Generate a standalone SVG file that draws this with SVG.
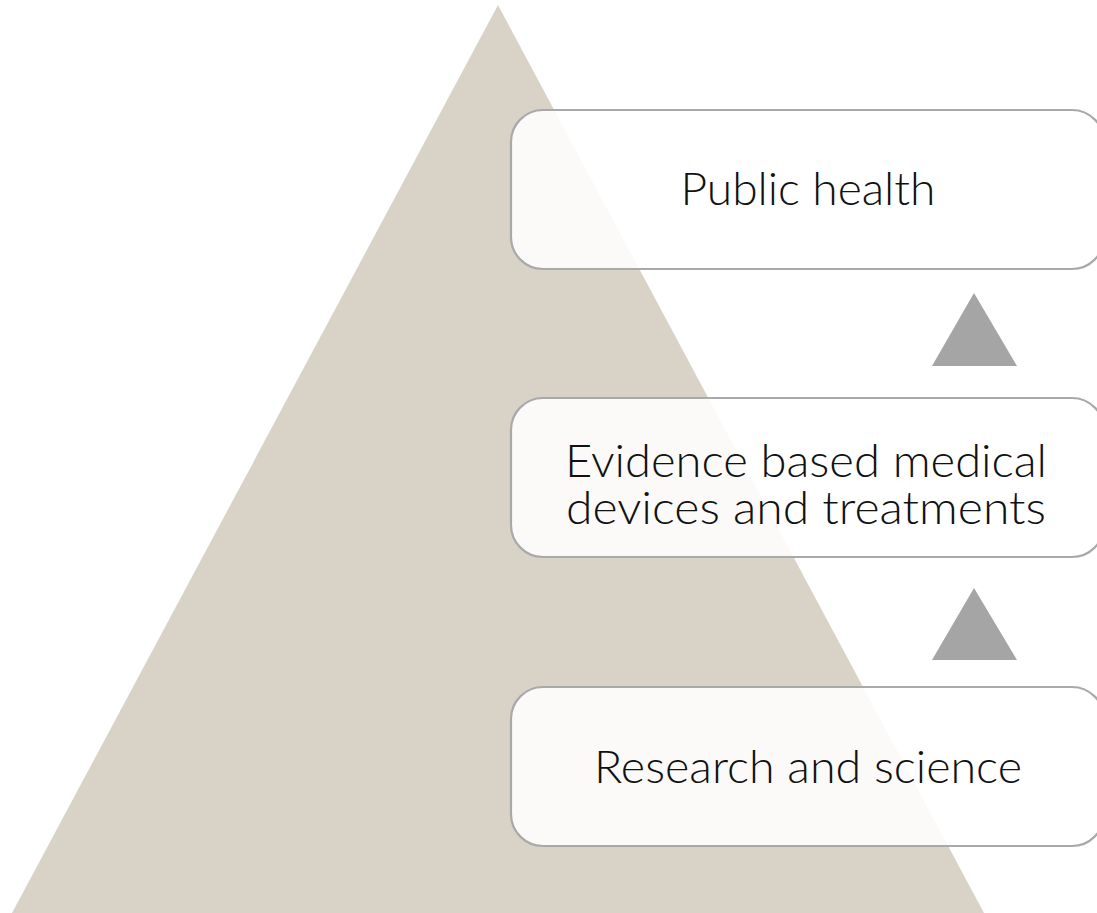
<svg xmlns="http://www.w3.org/2000/svg" width="1097" height="913" viewBox="0 0 1097 913">
<style>
.box{fill:#ffffff;fill-opacity:0.88;stroke:#A9A9A9;stroke-width:2.2}
.lbl{font-family:Lato,"Noto Sans",sans-serif;font-weight:300;font-size:45px;fill:#111;text-anchor:middle}
.arr{fill:#A5A5A5}
</style>
<rect width="1097" height="913" fill="#ffffff"/>
<polygon id="pyramid" points="498,5 12,913 984,913" fill="#D9D3C7"/>
<g id="connectors">
<polygon class="arr" points="974,293 932,366 1017,366"/>
<polygon class="arr" points="974,588 932,660 1017,660"/>
</g>
<g id="public-health">
<rect class="box" x="511" y="110" width="593" height="159" rx="32"/>
<text class="lbl" x="808" y="205" textLength="255" lengthAdjust="spacingAndGlyphs">Public health</text>
</g>
<g id="evidence">
<rect class="box" x="511" y="398" width="593" height="159" rx="32"/>
<text class="lbl" x="806" y="477" textLength="482" lengthAdjust="spacingAndGlyphs">Evidence based medical</text>
<text class="lbl" x="806" y="524" textLength="480" lengthAdjust="spacingAndGlyphs">devices and treatments</text>
</g>
<g id="research">
<rect class="box" x="511" y="687" width="593" height="159" rx="32"/>
<text class="lbl" x="808" y="783" textLength="428" lengthAdjust="spacingAndGlyphs">Research and science</text>
</g>
</svg>
